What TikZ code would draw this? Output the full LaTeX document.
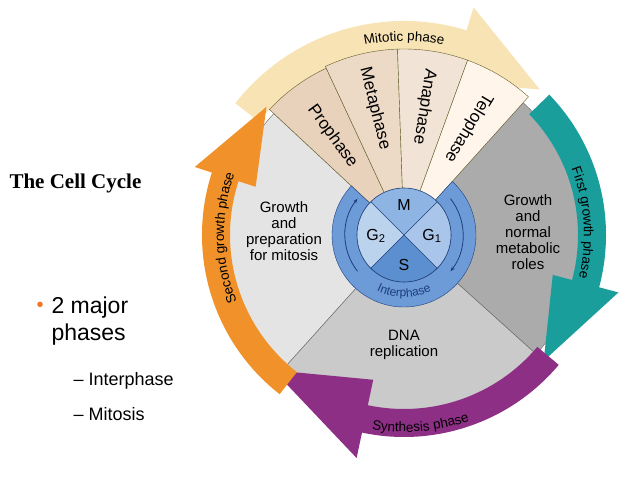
\documentclass[tikz,border=0pt]{standalone}
\usepackage{fontspec}
\setmainfont{Liberation Sans}
\newfontfamily\tnr{Liberation Serif}
\usetikzlibrary{decorations.text,arrows.meta}
\definecolor{cream}{HTML}{F8E3B5}
\definecolor{teal}{HTML}{1A9E9C}
\definecolor{purp}{HTML}{8E2F86}
\definecolor{orng}{HTML}{F0912A}
\definecolor{gtwo}{HTML}{E4E4E4}
\definecolor{gone}{HTML}{ABABAB}
\definecolor{sgray}{HTML}{CACACA}
\definecolor{ringblue}{HTML}{6C9BD8}
\definecolor{darkblue}{HTML}{1F3F7A}
\definecolor{qm}{HTML}{8DB4E2}
\definecolor{qone}{HTML}{A9C5EA}
\definecolor{qs}{HTML}{5B8FCF}
\definecolor{qtwo}{HTML}{BCD3EE}
% band arrow: colour, tail, head base, tip, r1, r2, head width
\newcommand\bandarrow[7]{%
  \fill[#1] (#2:#6) arc[start angle=#2,end angle=#3,radius=#6] -- (#3:#6+#7)
    -- (#4:#5/2+#6/2) -- (#3:#5-#7) -- (#3:#5) arc[start angle=#3,end angle=#2,radius=#5] -- cycle;}
\tikzset{
  sector/.style={draw=black!60,line width=0.4pt},
  wedge/.style={draw=olive!60!black,line width=0.4pt},
  arclabel/.style={decorate,decoration={text along path,text align=center,text={#1}}},
  wlabel/.style={font=\fontsize{17}{17}\selectfont},
  plabel/.style={font=\fontsize{15}{16}\selectfont,align=center},
  quad/.style={font=\fontsize{16}{16}\selectfont},
  ringarrow/.style={darkblue,line width=0.8pt,-{Stealth[length=5pt]}},
}
\begin{document}
\begin{tikzpicture}[x=1pt,y=1pt]
\useasboundingbox (0,0) rectangle (638,479);
\fill[white] (0,0) rectangle (638,479);
% left text
\node[anchor=west,font=\tnr\bfseries\fontsize{21}{21}\selectfont] (title) at (6,296) {The Cell Cycle};
\node[anchor=west,text=orng!80!red,font=\fontsize{20}{20}\selectfont] (bul) at (33,172) {•};
\node[anchor=north west,align=left,font=\fontsize{23}{27}\selectfont] (maj) at (48,186) {2 major\\phases};
\node[anchor=west,font=\fontsize{18}{18}\selectfont] (int) at (70,98) {– Interphase};
\node[anchor=west,font=\fontsize{18}{18}\selectfont] (mit) at (70,65) {– Mitosis};
\begin{scope}[shift={(404,244)}]
  % sectors
  \fill[gtwo,sector] (0,0) -- (137:178) arc[start angle=137,end angle=228,radius=178] -- cycle;
  \fill[sgray,sector] (0,0) -- (228:178) arc[start angle=228,end angle=318,radius=178] -- cycle;
  \fill[gone,sector] (0,0) -- (318:178) arc[start angle=318,end angle=408,radius=178] -- cycle;
  % arrows
  \bandarrow{cream}{142}{73}{47}{184}{214}{24}
  \bandarrow{teal}{44}{-15}{-42}{174}{202}{20}
  \bandarrow{purp}{-40}{-102}{-134}{174}{202}{26}
  \bandarrow{orng}{232}{162}{137}{174}{202}{18}
  % mitosis wedges
  \fill[brown!35!white,wedge] (0,0) -- (137:184) arc[start angle=137,end angle=115,radius=184] -- cycle;
  \fill[brown!30!white,wedge] (0,0) -- (115:186) arc[start angle=115,end angle=92,radius=186] -- cycle;
  \fill[brown!22!white,wedge] (0,0) -- (92:186) arc[start angle=92,end angle=70,radius=186] -- cycle;
  \fill[orange!8!white,wedge] (0,0) -- (70:186) arc[start angle=70,end angle=48,radius=186] -- cycle;
  \node[wlabel,rotate=-54] (pro) at (126:122) {Prophase};
  \node[wlabel,rotate=-76] (met) at (103:130) {Metaphase};
  \node[wlabel,rotate=-99] (ana) at (81:130) {Anaphase};
  \node[wlabel,rotate=-121] (tel) at (59:125) {Telophase};
  % arc labels
  \path[arclabel={|\fontsize{13.5}{13.5}\selectfont|Mitotic phase}] (120:194) arc[start angle=120,end angle=60,radius=194];
  \path[arclabel={|\fontsize{13.5}{13.5}\selectfont|First growth phase}] (42:180) arc[start angle=42,end angle=-34,radius=180];
  \path[arclabel={|\fontsize{13.5}{13.5}\selectfont|Synthesis phase}] (-118:197) arc[start angle=-118,end angle=-52,radius=197];
  \path[arclabel={|\fontsize{13.5}{13.5}\selectfont|Second growth phase}] (224:180) arc[start angle=224,end angle=138,radius=180];
  % sector texts
  \node[plabel] (g2t) at (-120,4) {Growth\\and\\preparation\\for mitosis};
  \node[plabel] (g1t) at (124,3) {Growth\\and\\normal\\metabolic\\roles};
  \node[plabel] (st) at (0,-110) {DNA\\replication};
  % interphase ring
  \fill[ringblue,draw=darkblue] (48:72) arc[start angle=48,end angle=-223,radius=72] -- (137:47) arc[start angle=137,end angle=408,radius=47] -- cycle;
  \draw[ringarrow] (38:59) arc[start angle=38,end angle=-38,radius=59];
  \draw[ringarrow] (218:59) arc[start angle=218,end angle=142,radius=59];
  \path[arclabel={|\fontsize{12}{12}\selectfont\color{darkblue}|Interphase}] (-140:62) arc[start angle=-140,end angle=-40,radius=62];
  % inner quadrants
  \fill[qm] (0,0) -- (45:47) arc[start angle=45,end angle=135,radius=47] -- cycle;
  \fill[qtwo] (0,0) -- (135:47) arc[start angle=135,end angle=225,radius=47] -- cycle;
  \fill[qs] (0,0) -- (225:47) arc[start angle=225,end angle=315,radius=47] -- cycle;
  \fill[qone] (0,0) -- (315:47) arc[start angle=315,end angle=405,radius=47] -- cycle;
  \draw[darkblue,line width=0.6pt] (0,0) circle[radius=47] (45:47) -- (225:47) (135:47) -- (315:47);
  \node[quad] (qM) at (0,30) {M};
  \node[quad] (qS) at (0,-30) {S};
  \node[quad] (qG1) at (28,-1) {G\textsubscript{1}};
  \node[quad] (qG2) at (-28,-1) {G\textsubscript{2}};
\end{scope}
\end{tikzpicture}
\end{document}
